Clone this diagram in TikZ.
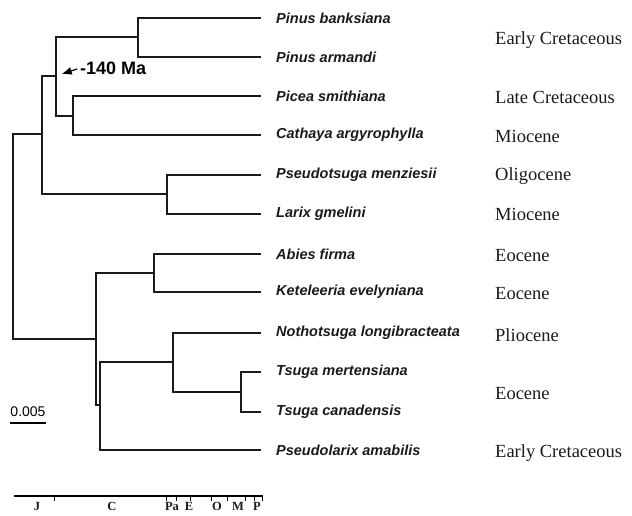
\documentclass[tikz,border=0pt]{standalone}
\usepackage{fontspec}
\setmainfont{Liberation Serif}
\setsansfont{Liberation Sans}
\usepackage{tikz}
\usetikzlibrary{positioning, arrows.meta}
\definecolor{InkBlack}{HTML}{1A1A1A}

\tikzset{
    branch/.style={draw=InkBlack, line width=1.6pt, line cap=rect},
    taxon/.style={inner sep=0pt, anchor=west, text=InkBlack,
        font=\sffamily\bfseries\itshape\fontsize{14.5}{16}\selectfont},
    epoch/.style={inner sep=0pt, anchor=west, text=InkBlack,
        font=\rmfamily\fontsize{18.5}{20}\selectfont},
    period/.style={inner sep=0pt, anchor=north, text=InkBlack,
        font=\rmfamily\bfseries\fontsize{12.5}{13}\selectfont}
}

\begin{document}
\begin{tikzpicture}[x=1pt, y=-1pt]
\useasboundingbox (0,0) rectangle (632,516);

% internal nodes
\coordinate (root) at (13,236);
\coordinate (pinA) at (42,134);
\coordinate (pinB) at (56,76);
\coordinate (pinus) at (138,37);
\coordinate (picea) at (73,116);
\coordinate (pseud) at (167,194);
\coordinate (abiA) at (96,339);
\coordinate (abies) at (154,273);
\coordinate (abiB) at (100,405);
\coordinate (tsuA) at (173,362);
\coordinate (tsuga) at (241,392);

% leaf tips
\foreach \i/\y in {1/18, 2/57, 3/96, 4/135, 5/175, 6/214,
                   7/254, 8/292, 9/333, 10/372, 11/412, 12/450}
    \coordinate (tip\i) at (260,\y);

% branches
\draw[branch] (root) |- (pinA);
\draw[branch] (root) |- (abiA);
\draw[branch] (pinA) |- (pinB);
\draw[branch] (pinA) |- (pseud);
\draw[branch] (pinB) |- (pinus);
\draw[branch] (pinB) |- (picea);
\draw[branch] (pinus) |- (tip1);
\draw[branch] (pinus) |- (tip2);
\draw[branch] (picea) |- (tip3);
\draw[branch] (picea) |- (tip4);
\draw[branch] (pseud) |- (tip5);
\draw[branch] (pseud) |- (tip6);
\draw[branch] (abiA) |- (abies);
\draw[branch] (abiA) |- (abiB);
\draw[branch] (abies) |- (tip7);
\draw[branch] (abies) |- (tip8);
\draw[branch] (abiB) |- (tsuA);
\draw[branch] (abiB) |- (tip12);
\draw[branch] (tsuA) |- (tip9);
\draw[branch] (tsuA) |- (tsuga);
\draw[branch] (tsuga) |- (tip10);
\draw[branch] (tsuga) |- (tip11);

% taxa
\node[taxon, right=16pt of tip1] (banksiana) {Pinus banksiana};
\node[taxon, right=16pt of tip2] (armandi) {Pinus armandi};
\node[taxon, right=16pt of tip3] (smithiana) {Picea smithiana};
\node[taxon, right=16pt of tip4] (argyrophylla) {Cathaya argyrophylla};
\node[taxon, right=16pt of tip5] (menziesii) {Pseudotsuga menziesii};
\node[taxon, right=16pt of tip6] (gmelini) {Larix gmelini};
\node[taxon, right=16pt of tip7] (firma) {Abies firma};
\node[taxon, right=16pt of tip8] (evelyniana) {Keteleeria evelyniana};
\node[taxon, right=16pt of tip9] (longibracteata) {Nothotsuga longibracteata};
\node[taxon, right=16pt of tip10] (mertensiana) {Tsuga mertensiana};
\node[taxon, right=16pt of tip11] (canadensis) {Tsuga canadensis};
\node[taxon, right=16pt of tip12] (amabilis) {Pseudolarix amabilis};

% fossil record
\node[epoch] (epPinus) at (495,40) {Early Cretaceous};
\node[epoch] (epPicea) at (495,97) {Late Cretaceous};
\node[epoch] (epCathaya) at (495,136) {Miocene};
\node[epoch] (epPseud) at (495,176) {Oligocene};
\node[epoch] (epLarix) at (495,214) {Miocene};
\node[epoch] (epAbies) at (495,256) {Eocene};
\node[epoch] (epKetel) at (495,294) {Eocene};
\node[epoch] (epNotho) at (495,335) {Pliocene};
\node[epoch] (epTsuga) at (495,394) {Eocene};
\node[epoch] (epPseudol) at (495,453) {Early Cretaceous};

% calibration
\node[inner sep=0pt, anchor=west, font=\sffamily\bfseries\fontsize{18}{19}\selectfont]
    (calib) at (80,68) {-140 Ma};
\draw[-{Latex[length=10pt, width=8pt]}, line width=1.2pt, shorten <=3pt, shorten >=6pt]
    (calib.west) -- (pinB);

% scale bar
\node[inner sep=0pt, font=\sffamily\fontsize{14}{15}\selectfont] (scale) at (28,412) {0.005};
\draw[line width=1.6pt] (scale.south west) ++(0,6) coordinate (sbL) -- (sbL -| scale.south east);

% time axis
\coordinate (axL) at (14,496);
\coordinate (axR) at (263,496);
\draw[line width=2.4pt] (axL) -- (axR);
\foreach \x in {54, 166, 176, 190, 211, 227, 245, 254, 262}
    \draw[line width=1pt] (\x,496) -- ++(0,5);
\foreach \x/\p in {37/J, 112/C, 172/Pa, 189/E, 217/O, 238/M, 257/P}
    \node[period] at (\x,502) {\p};
\end{tikzpicture}
\end{document}
